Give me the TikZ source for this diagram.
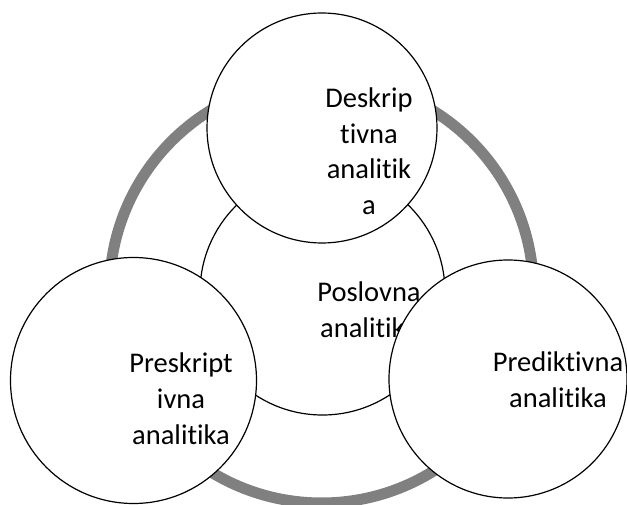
\documentclass[tikz,border=0pt]{standalone}
\usepackage{fontspec}
\setmainfont{Carlito}[Ligatures={NoCommon,NoContextual}]
\begin{document}
\begin{tikzpicture}[x=1pt,y=-1pt,
  bubble/.style={circle,draw=black,line width=1.2pt,fill=white,inner sep=0pt},
  label/.style={align=center,inner sep=0pt,font=\fontsize{28.5}{36}\selectfont},
  ringline/.style={draw=gray,line width=11pt}]
\useasboundingbox (0,0) rectangle (627,505);
\coordinate (rc) at (321.5,291);
\draw[ringline] (rc) circle[radius=212];
\node[bubble,minimum size=245pt] (center) at (322.5,292.5) {};
\node[label,anchor=center] (centertext) at (369,310) {Poslovna\\analitika};
\node[bubble,minimum size=230pt] (top) at (322,128) {};
\node[label,anchor=center,font=\fontsize{28.5}{35.5}\selectfont] (toptext) at (369,151) {Deskrip\\tivna\\analitik\\a};
\node[bubble,minimum size=246pt] (left) at (133.5,380.5) {};
\node[label,anchor=center] (lefttext) at (181,399) {Preskript\\ivna\\analitika};
\node[bubble,minimum size=238pt] (right) at (508,379) {};
\node[label,anchor=center] (righttext) at (558,380) {Prediktivna\\analitika};
\end{tikzpicture}
\end{document}
